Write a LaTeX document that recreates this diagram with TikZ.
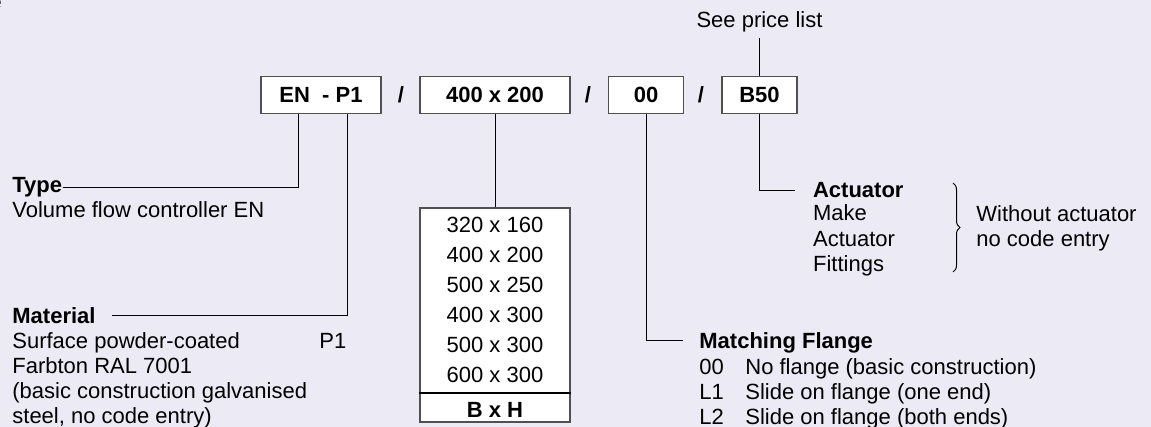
\documentclass[tikz,border=0pt]{standalone}
\usepackage{fontspec}
\setmainfont{Liberation Sans}
\usetikzlibrary{decorations.pathreplacing}
\definecolor{paper}{RGB}{236,235,245}
\definecolor{frame}{RGB}{80,80,80}

\begin{document}
\begin{tikzpicture}[x=0.5pt,y=-0.5pt]

\tikzset{code/.style = {draw=frame, fill=white, line width=0.6pt, minimum height=18.5pt, inner sep=0pt, font=\fontsize{11}{12.5}\selectfont\bfseries}}
\tikzset{txt/.style = {inner sep=0pt, align=left, font=\fontsize{11}{12.5}\selectfont}}
\tikzset{wire/.style = {draw, line width=0.5pt}}

\fill[paper] (0,0) rectangle (1151,427);
\useasboundingbox (0,0) rectangle (1151,427);

% code boxes
\node[code, minimum width=60pt] (en) at (321,95) {EN\ \ - P1};
\node[txt, font=\fontsize{11}{12.5}\selectfont\bfseries] (s1) at (401,95) {/};
\node[code, minimum width=75pt] (size) at (495,95) {400 x 200};
\node[txt, font=\fontsize{11}{12.5}\selectfont\bfseries] (s2) at (588,95) {/};
\node[code, minimum width=37.5pt] (flange) at (646,95) {00};
\node[txt, font=\fontsize{11}{12.5}\selectfont\bfseries] (s3) at (701,95) {/};
\node[code, minimum width=37.5pt] (act) at (759.5,95) {B50};
\node[txt, font=\fontsize{11}{12.5}\selectfont\bfseries, anchor=base east] (hdr) at (2,10) {e};

% labels
\node[txt, anchor=base, inner sep=2.7pt] (price) at (759.5,28) {See price list};
\node[txt, anchor=base west] (typehd) at (12,193) {\bfseries Type};
\node[txt, anchor=base west] (typedesc) at (12,218) {Volume flow controller EN};
\node[txt, anchor=base west] (mathd) at (12,323) {\bfseries Material};
\node[txt, anchor=base west] (matdesc) at (12,423) {Surface powder-coated\\Farbton RAL 7001\\(basic construction galvanised\\steel, no code entry)};
\node[txt, anchor=base west] (matcode) at (319,348) {P1};

\node[draw=frame, fill=white, line width=0.6pt, minimum width=75pt, minimum height=107pt] (sizes) at (495,315) {};
\foreach \s [count=\i] in {320 x 160, 400 x 200, 500 x 250, 400 x 300, 500 x 300, 600 x 300}
  \node[txt, anchor=base] (sz\i) at (495,{202.5+30*\i}) {\s};
\node[txt, anchor=base] (bxh) at (495,417) {\bfseries B x H};
\draw[line width=1.1pt] ([yshift=14.65pt]sizes.south west) -- ([yshift=14.65pt]sizes.south east);

\node[txt, anchor=base west] (flghd) at (699,349) {\bfseries Matching Flange};
\foreach \c/\t [count=\i] in {00/{No flange (basic construction)}, L1/{Slide on flange (one end)}, L2/{Slide on flange (both ends)}} {
  \node[txt, anchor=base west] (fc\i) at (699,{349+25*\i}) {\c};
  \node[txt, anchor=base west] (ft\i) at (745,{349+25*\i}) {\t};
}

\node[txt, anchor=base west] (acthd) at (812.7,197.5) {\bfseries Actuator};
\node[txt, anchor=base west] (actdesc) at (812.7,271) {Make\\Actuator\\Fittings};
\node[txt, anchor=base west] (noact) at (976,247) {Without actuator\\no code entry};
\draw[line width=0.5pt, decorate, decoration={brace, amplitude=3.5pt}] (953,183) -- (953,272);

%edges
\draw[wire] (price) -- (act);
\draw[wire] (typehd.east) -| ([xshift=-11.5pt]en.south);
\draw[wire] ([xshift=8pt]mathd.east) -| ([xshift=13.3pt]en.south);
\draw[wire] (size) -- (sizes);
\draw[wire] (flange.south) |- ([shift={(-8pt,1.5pt)}]flghd.west);
\draw[wire] (act.south) |- ([xshift=-8.7pt]acthd.west);

\end{tikzpicture}
\end{document}
